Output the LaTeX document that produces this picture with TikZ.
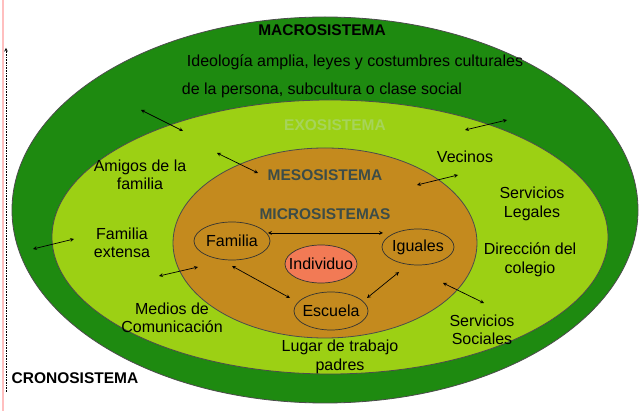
\documentclass[tikz,border=0pt]{standalone}
\usepackage{fontspec}
\setmainfont{Liberation Sans}
\begin{document}
\begin{tikzpicture}[x=1pt,y=-1pt,
  txt/.style={font=\fontsize{16}{18.5}\selectfont,align=center,inner sep=0pt},
  ttl/.style={font=\fontsize{15.5}{18}\selectfont\bfseries,inner sep=0pt},
  sub/.style={draw=black!80,line width=0.7pt},
  conn/.style={<->,>=stealth,line width=0.7pt}]
\definecolor{dgreen}{HTML}{1E8A10}
\definecolor{lgreen}{HTML}{9CD014}
\definecolor{ochre}{HTML}{C48A1E}
\definecolor{salmon}{HTML}{F27A55}
\definecolor{mgray}{HTML}{3C4C48}
\definecolor{pgreen}{HTML}{A6D45A}
\useasboundingbox (0,0) rectangle (640,411);
\fill[white] (0,0) rectangle (640,411);
\draw[red!25,line width=1.2pt] (3,0) -- (3,411);
\coordinate (ca) at (6,392); \coordinate (cb) at (6,48);
\draw[densely dotted,->,>=stealth,line width=0.6pt] (ca) -- (cb);
\draw[fill=dgreen,draw=black!70,line width=0.8pt] (325,210) ellipse [x radius=313,y radius=193];
\draw[fill=lgreen,draw=black!70,line width=0.8pt] (330,237) ellipse [x radius=278,y radius=137];
\draw[fill=ochre,draw=black!70,line width=0.8pt] (325,243) ellipse [x radius=152,y radius=95];
\draw[sub] (232,241) ellipse [x radius=38,y radius=19];
\draw[sub] (418,247) ellipse [x radius=36,y radius=18];
\draw[sub,fill=salmon] (321,264) ellipse [x radius=36,y radius=19];
\draw[sub] (331,311) ellipse [x radius=37,y radius=19];
\node[txt] (fam) at (232,241) {Familia};
\node[txt] (igu) at (418,247) {Iguales};
\node[txt] (ind) at (321,264) {Individuo};
\node[txt] (esc) at (331,311) {Escuela};
\node[ttl] (macro) at (322,30) {MACROSISTEMA};
\node[txt] (ideo) at (355,62) {Ideología amplia, leyes y costumbres culturales};
\node[txt] (pers) at (322,90) {de la persona, subcultura o clase social};
\node[ttl,text=pgreen] (exo) at (335,125) {EXOSISTEMA};
\node[ttl,text=mgray] (meso) at (325,175) {MESOSISTEMA};
\node[ttl,text=mgray] (micro) at (325,214) {MICROSISTEMAS};
\node[txt] (amig) at (140,175) {Amigos de la\\familia};
\node[txt] (vec) at (465,157) {Vecinos};
\node[txt] (sleg) at (532,204) {Servicios\\Legales};
\node[txt] (fext) at (122,243) {Familia\\extensa};
\node[txt] (dir) at (530,260) {Dirección del\\colegio};
\node[txt] (med) at (172,318) {Medios de\\Comunicación};
\node[txt] (ssoc) at (482,330) {Servicios\\Sociales};
\node[txt] (lug) at (340,357) {Lugar de trabajo\\padres};
\node[ttl] (crono) at (75,378) {CRONOSISTEMA};
\coordinate (a1) at (268,233); \coordinate (a2) at (383,233);
\draw[conn] (a1) -- (a2);
\coordinate (b1) at (232,266); \coordinate (b2) at (290,298);
\draw[conn] (b1) -- (b2);
\coordinate (c1) at (367,298); \coordinate (c2) at (399,272);
\draw[conn] (c1) -- (c2);
\coordinate (d1) at (217,153); \coordinate (d2) at (258,173);
\draw[conn] (d1) -- (d2);
\coordinate (e1) at (417,185); \coordinate (e2) at (458,175);
\draw[conn] (e1) -- (e2);
\coordinate (g1) at (443,283); \coordinate (g2) at (484,303);
\draw[conn] (g1) -- (g2);
\coordinate (h1) at (159,276); \coordinate (h2) at (198,267);
\draw[conn] (h1) -- (h2);
\coordinate (i1) at (33,249); \coordinate (i2) at (74,239);
\draw[conn] (i1) -- (i2);
\coordinate (j1) at (141,110); \coordinate (j2) at (183,131);
\draw[conn] (j1) -- (j2);
\coordinate (k1) at (465,130); \coordinate (k2) at (507,120);
\draw[conn] (k1) -- (k2);
\end{tikzpicture}
\end{document}
